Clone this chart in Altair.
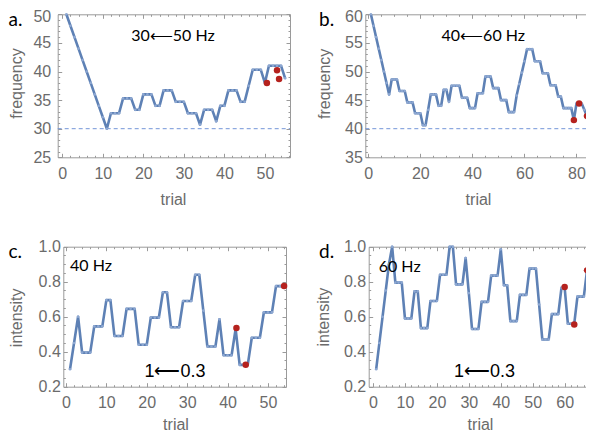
import altair as alt
import pandas as pd

# ---------------- data ----------------
# panel a: frequency staircase, 30<-50 Hz
a_trial = list(range(1, 56))
a_freq = [50, 48, 46, 44, 42, 40, 38, 36, 34, 32, 30,
          32.7, 32.7, 32.7, 35.3, 35.3, 35.3, 33.3, 33.3, 36.0, 36.0, 36.0, 34.0, 34.0,
          36.7, 36.7, 36.7, 34.7, 34.7, 34.7, 32.7, 32.7, 32.7, 30.7, 33.3, 33.3, 33.3, 31.3,
          34.0, 34.0, 36.7, 36.7, 36.7, 34.7, 34.7, 37.5, 40.3, 40.3, 40.3, 38.0,
          41.0, 41.0, 41.0, 41.0, 38.8]
a_red_trial = [50.5, 53.0, 53.5]
a_red_freq = [38.0, 40.2, 38.7]
a_target = 30

# panel b: frequency staircase, 40<-60 Hz
b_trial = list(range(1, 85))
b_freq = [60, 58, 56, 54, 52, 50, 48, 46,
          48.6, 48.6, 48.6, 46.6, 46.6, 46.6, 44.6, 44.6, 44.6, 42.7, 42.7, 42.7, 40.6, 40.6, 43.3,
          46.0, 46.0, 46.0, 44.0, 44.0, 46.8, 46.8, 44.7, 47.5, 47.5, 47.5, 47.5, 45.4, 45.4, 45.4,
          43.6, 43.6, 43.6, 46.2, 46.2, 46.2, 49.1, 49.1, 49.1, 47.1, 47.1, 47.1, 45.0, 45.0, 45.0,
          42.9, 42.9, 42.9, 45.8, 47.8, 49.8, 51.8, 53.9, 53.9, 53.9, 51.8, 51.8, 51.8,
          49.7, 49.7, 49.7, 47.6, 47.6, 47.6, 45.6, 45.6, 43.6, 43.6, 43.6, 43.6, 41.5,
          44.4, 44.4, 44.4, 43.3, 42.2]
b_red_trial = [79, 81, 84]
b_red_freq = [41.5, 44.4, 42.2]
b_target = 40

# panel c: intensity staircase at 40 Hz
c_trial = list(range(1, 55))
c_int = [0.30, 0.45, 0.60, 0.395, 0.395, 0.395, 0.545, 0.545, 0.545, 0.695, 0.695,
         0.49, 0.49, 0.49, 0.645, 0.645, 0.645, 0.44, 0.44, 0.44, 0.595, 0.595, 0.595,
         0.74, 0.74, 0.54, 0.54, 0.54, 0.69, 0.69, 0.69, 0.84, 0.84, 0.635,
         0.43, 0.43, 0.43, 0.585, 0.38, 0.38, 0.38, 0.53, 0.325, 0.325, 0.325,
         0.48, 0.48, 0.48, 0.625, 0.625, 0.625, 0.775, 0.775, 0.775]
c_red_trial = [42.2, 44.5, 54]
c_red_int = [0.535, 0.325, 0.775]

# panel d: intensity staircase at 60 Hz
d_trial = list(range(1, 68))
d_int = [0.30, 0.45, 0.60, 0.75, 0.90, 1.00, 0.795, 0.795, 0.795, 0.59, 0.59, 0.59, 0.745, 0.745,
         0.535, 0.535, 0.535, 0.69, 0.69, 0.69, 0.84, 0.84, 0.84, 1.00, 1.00, 0.785, 0.785, 0.785,
         0.935, 0.735, 0.53, 0.53, 0.53, 0.685, 0.685, 0.685, 0.835, 0.835, 0.835, 0.985,
         0.78, 0.78, 0.575, 0.575, 0.575, 0.725, 0.725, 0.725, 0.875, 0.875, 0.875, 0.67,
         0.47, 0.47, 0.47, 0.615, 0.615, 0.615, 0.765, 0.765, 0.56, 0.56, 0.56, 0.715, 0.715, 0.715, 0.865]
d_red_trial = [60, 63, 67]
d_red_int = [0.77, 0.555, 0.865]

# tick labels
a_xticks = [0, 10, 20, 30, 40, 50]
a_yticks = [25, 30, 35, 40, 45, 50]
b_xticks = [0, 20, 40, 60, 80]
b_yticks = [35, 40, 45, 50, 55, 60]
c_xticks = [0, 10, 20, 30, 40, 50]
d_xticks = [0, 10, 20, 30, 40, 50, 60]
cd_yticks = [0.2, 0.4, 0.6, 0.8, 1.0]

# ---------------- styling ----------------
W, H = 578, 425
FRAME = "#9a9a9a"
LABEL = "#6b6b6b"
LINE = "#5E81B5"
DOT = "#8ea8d2"
RED = "#B5221E"
DASH = "#7395D8"
NUMF = "Liberation Sans"
TXTF = "Lato"


def tick_size(test):
    return {"condition": {"test": test, "value": 4}, "value": 2}


def panel(trials, vals, rtr, rvals, xdom, ydom, box, xmaj, xall, xtest, ymaj, yall, ytest,
          fmt, ytitle, ytitle_xy, xtitle_xy, ylabpad, target=None, top_label_shift=0):
    L, R, T, B = box
    xs = alt.Scale(domain=xdom, range=[L, R], nice=False, zero=False)
    ys = alt.Scale(domain=ydom, range=[B, T], nice=False, zero=False)
    df = pd.DataFrame({"trial": trials, "v": vals})
    rd = pd.DataFrame({"trial": rtr, "v": rvals})

    common = dict(grid=False)
    ax_bottom = alt.Axis(orient="bottom", offset=B - H, values=xmaj, ticks=False, tickSize=0,
                         domain=True, domainColor=FRAME, domainWidth=1,
                         labelFont=NUMF, labelFontSize=16, labelColor=LABEL, labelPadding=8,
                         labelFlush=False, labelOverlap=False,
                         title="trial", titleFont=NUMF, titleFontSize=16, titleFontWeight="normal",
                         titleColor=LABEL, titleX=xtitle_xy[0], titleY=xtitle_xy[1],
                         titleBaseline="alphabetic", titleAlign="center", **common)
    left_extra = {}
    if top_label_shift:
        left_extra["labelOffset"] = {"condition": {"test": f"datum.value === {ydom[1]}",
                                                   "value": top_label_shift}, "value": 0}
    ax_left = alt.Axis(orient="left", offset=-L, values=ymaj, format=fmt, ticks=False, tickSize=0,
                       domain=True, domainColor=FRAME, domainWidth=1,
                       labelFont=NUMF, labelFontSize=16, labelColor=LABEL, labelPadding=ylabpad,
                       labelFlush=False, labelOverlap=False,
                       title=ytitle, titleFont=NUMF, titleFontSize=16, titleFontWeight="normal",
                       titleColor=LABEL, titleX=ytitle_xy[0], titleY=ytitle_xy[1], titleAngle=270,
                       titleBaseline="middle", titleAlign="center", **left_extra, **common)
    ax_top = alt.Axis(orient="top", offset=-T, domain=True, domainColor=FRAME, ticks=False,
                      labels=False, title=None, **common)
    ax_right = alt.Axis(orient="right", offset=R - W, domain=True, domainColor=FRAME, ticks=False,
                        labels=False, title=None, **common)
    tk = dict(domain=False, labels=False, ticks=True, tickColor=FRAME, tickWidth=1, title=None, **common)
    ax_tb = alt.Axis(orient="top", offset=-B, values=xall, tickSize=tick_size(xtest), **tk)
    ax_tt = alt.Axis(orient="bottom", offset=T - H, values=xall, tickSize=tick_size(xtest), **tk)
    ax_tl = alt.Axis(orient="right", offset=L - W, values=yall, tickSize=tick_size(ytest), **tk)
    ax_tr = alt.Axis(orient="left", offset=-R, values=yall, tickSize=tick_size(ytest), **tk)

    layers = []
    if target is not None:
        tdf = pd.DataFrame({"x0": [xdom[0]], "x1": [xdom[1]], "y": [target]})
        layers.append(alt.Chart(tdf).mark_rule(color=DASH, strokeWidth=1, strokeDash=[4, 3]).encode(
            x=alt.X("x0:Q", scale=xs, axis=None), x2="x1:Q",
            y=alt.Y("y:Q", scale=ys, axis=None)))
    layers.append(alt.Chart(df).mark_line(color=LINE, strokeWidth=2.6, strokeJoin="round").encode(
        x=alt.X("trial:Q", scale=xs, axis=ax_bottom),
        y=alt.Y("v:Q", scale=ys, axis=ax_left)))
    layers.append(alt.Chart(df).mark_point(filled=True, size=7, color=DOT, opacity=1).encode(
        x=alt.X("trial:Q", scale=xs, axis=ax_top),
        y=alt.Y("v:Q", scale=ys, axis=ax_right)))
    layers.append(alt.Chart(rd).mark_circle(size=42, color=RED, opacity=1).encode(
        x=alt.X("trial:Q", scale=xs, axis=ax_tb),
        y=alt.Y("v:Q", scale=ys, axis=ax_tl)))
    layers.append(alt.Chart(df).mark_point(opacity=0).encode(
        x=alt.X("trial:Q", scale=xs, axis=ax_tt),
        y=alt.Y("v:Q", scale=ys, axis=ax_tr)))
    return alt.layer(*layers)


def label(txt, x, y, font, size, align="left", weight="normal", color="black"):
    return alt.Chart(pd.DataFrame({"t": [txt]})).mark_text(
        font=font, fontSize=size, fontWeight=weight, align=align, baseline="alphabetic", color=color
    ).encode(x=alt.value(x), y=alt.value(y), text="t:N")


mod10 = "datum.value % 10 === 0"
mod20 = "datum.value % 20 === 0"
mod5 = "datum.value % 5 === 0"
fifth = "abs(datum.value * 5 - round(datum.value * 5)) < 0.001"

pa = panel(a_trial, a_freq, a_red_trial, a_red_freq, [-1.14, 56.2], [25, 50],
           (49.7, 282, 6.3, 149.3), a_xticks, list(range(0, 57, 2)), mod10,
           a_yticks, list(range(25, 51)), mod5, "d", "frequency", (-41.4, 75), (165, 46.7), 7,
           target=a_target, top_label_shift=2.5)
pb = panel(b_trial, b_freq, b_red_trial, b_red_freq, [-1.153, 88], [35, 60],
           (357.3, 589.3, 6.3, 149.3), b_xticks, list(range(0, 90, 5)), mod20,
           b_yticks, list(range(35, 61)), mod5, "d", "frequency", (-41.3, 75.3), (470, 46.7), 3,
           target=b_target, top_label_shift=2.5)
pc = panel(c_trial, c_int, c_red_trial, c_red_int, [-0.66, 54.47], [0.2, 1.0],
           (55.3, 278, 238.7, 378.7), c_xticks, list(range(0, 55, 2)), mod10,
           cd_yticks, [round(0.2 + 0.05 * i, 2) for i in range(17)], fifth, ".1f", "intensity",
           (-46.6, 309.3), (167.5, 42.8), 3)
pd_ = panel(d_trial, d_int, d_red_trial, d_red_int, [-1.346, 72], [0.2, 1.0],
            (360.7, 595, 238.7, 378.7), d_xticks, list(range(0, 73, 2)), mod10,
            cd_yticks, [round(0.2 + 0.05 * i, 2) for i in range(17)], fifth, ".1f", "intensity",
            (-45, 308.7), (472, 42.8), 3)

texts = [
    label("a.", 0.5, 18.2, TXTF, 19),
    label("b.", 311, 18.2, TXTF, 19),
    label("c.", 0.5, 250.3, TXTF, 19),
    label("d.", 311, 250.3, TXTF, 19),
    label("30\u27f550 Hz", 165, 32.7, TXTF, 16, align="center"),
    label("40\u27f560 Hz", 475.3, 32.7, TXTF, 16, align="center"),
    label("40 Hz", 62, 262.7, TXTF, 16),
    label("60 Hz", 370.7, 263.7, TXTF, 16),
    label("1\u27f50.3", 167, 368.7, NUMF, 18, align="center"),
    label("1\u27f50.3", 476.5, 368.7, NUMF, 18, align="center"),
]

chart = alt.layer(pa, pb, pc, pd_, *texts).resolve_scale(
    x="independent", y="independent"
).properties(
    width=W, height=H, padding=0, autosize=alt.AutoSizeParams(type="none")
).configure_view(stroke=None)

chart.save("out.html", embed_options={"renderer": "svg", "actions": False})
